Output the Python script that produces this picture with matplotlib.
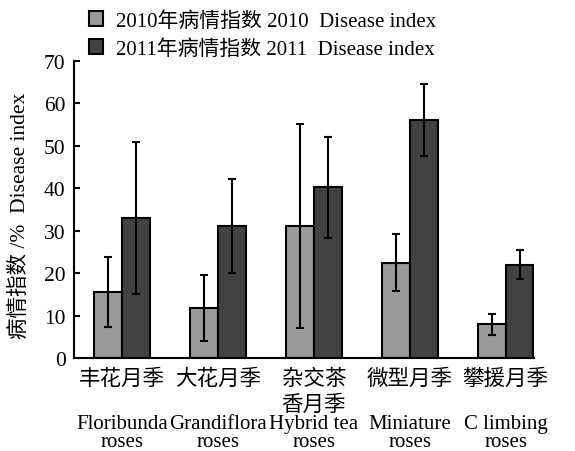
import numpy as np
import matplotlib
matplotlib.use("Agg")
import matplotlib.pyplot as plt
from matplotlib.patches import Patch

# fuente: serif para números/inglés, CJK como respaldo
plt.rcParams['font.family'] = ['Liberation Serif', 'Noto Sans CJK SC']
plt.rcParams['font.size'] = 15

# datos
variedades_cn = ["丰花月季", "大花月季", "杂交茶\n香月季", "微型月季", "攀援月季"]
variedades_en = ["Floribunda\nroses", "Grandiflora\nroses", "Hybrid tea\nroses",
                 "Miniature\nroses", "C limbing\nroses"]
indice_2010 = [15.6, 11.8, 31.1, 22.5, 7.9]
error_2010 = [8.3, 7.8, 24.0, 6.7, 2.4]
indice_2011 = [33.0, 31.1, 40.2, 56.0, 22.0]
error_2011 = [18.0, 11.1, 12.0, 8.5, 3.4]
leyenda = ["2010年病情指数 2010  Disease index", "2011年病情指数 2011  Disease index"]
color_2010 = "#9a9a9a"
color_2011 = "#424242"

fig = plt.figure(figsize=(5.75, 4.52), dpi=100)
ax = fig.add_axes([74 / 575, 1 - 359 / 452, (533.5 - 74) / 575, (359 - 62) / 452])

x = np.arange(len(indice_2010))
w = 0.29
ax.bar(x - w / 2, indice_2010, w, color=color_2010, edgecolor="black", linewidth=1.5,
       yerr=error_2010, capsize=3, error_kw=dict(elinewidth=1.5, capthick=1.5, ecolor="black"))
ax.bar(x + w / 2, indice_2011, w, color=color_2011, edgecolor="black", linewidth=1.5,
       yerr=error_2011, capsize=3, error_kw=dict(elinewidth=1.5, capthick=1.5, ecolor="black"))

ax.set_xlim(-0.5, 4 + w)
ax.set_ylim(0, 70)
ax.set_yticks(range(0, 71, 10))
ax.tick_params(axis="y", direction="in", length=4, width=1.5, pad=6, labelsize=15.5)
ax.set_xticks([])
for s in ["top", "right"]:
    ax.spines[s].set_visible(False)
for s in ["left", "bottom"]:
    ax.spines[s].set_linewidth(1.5)

# etiquetas del eje x (chino arriba, inglés abajo)
for i in range(len(x)):
    ax.text(x[i], -0.035, variedades_cn[i], transform=ax.get_xaxis_transform(),
            ha="center", va="top", linespacing=1.4, fontsize=15.5)
    ax.text(x[i], -0.19, variedades_en[i], transform=ax.get_xaxis_transform(),
            ha="center", va="top", linespacing=0.92, fontsize=15)

fig.text(20 / 575, 1 - 216 / 452, "病情指数 /%  Disease index", rotation=90,
         ha="center", va="center", fontsize=15.5)

handles = [Patch(facecolor=color_2010, edgecolor="black", linewidth=1.5),
           Patch(facecolor=color_2011, edgecolor="black", linewidth=1.5)]
fig.legend(handles, leyenda, loc="upper left", bbox_to_anchor=(70 / 575, 1.015),
           frameon=False, handlelength=0.7, handleheight=0.7, handletextpad=0.6,
           labelspacing=0.42)

fig.savefig("out.png", dpi=100)
